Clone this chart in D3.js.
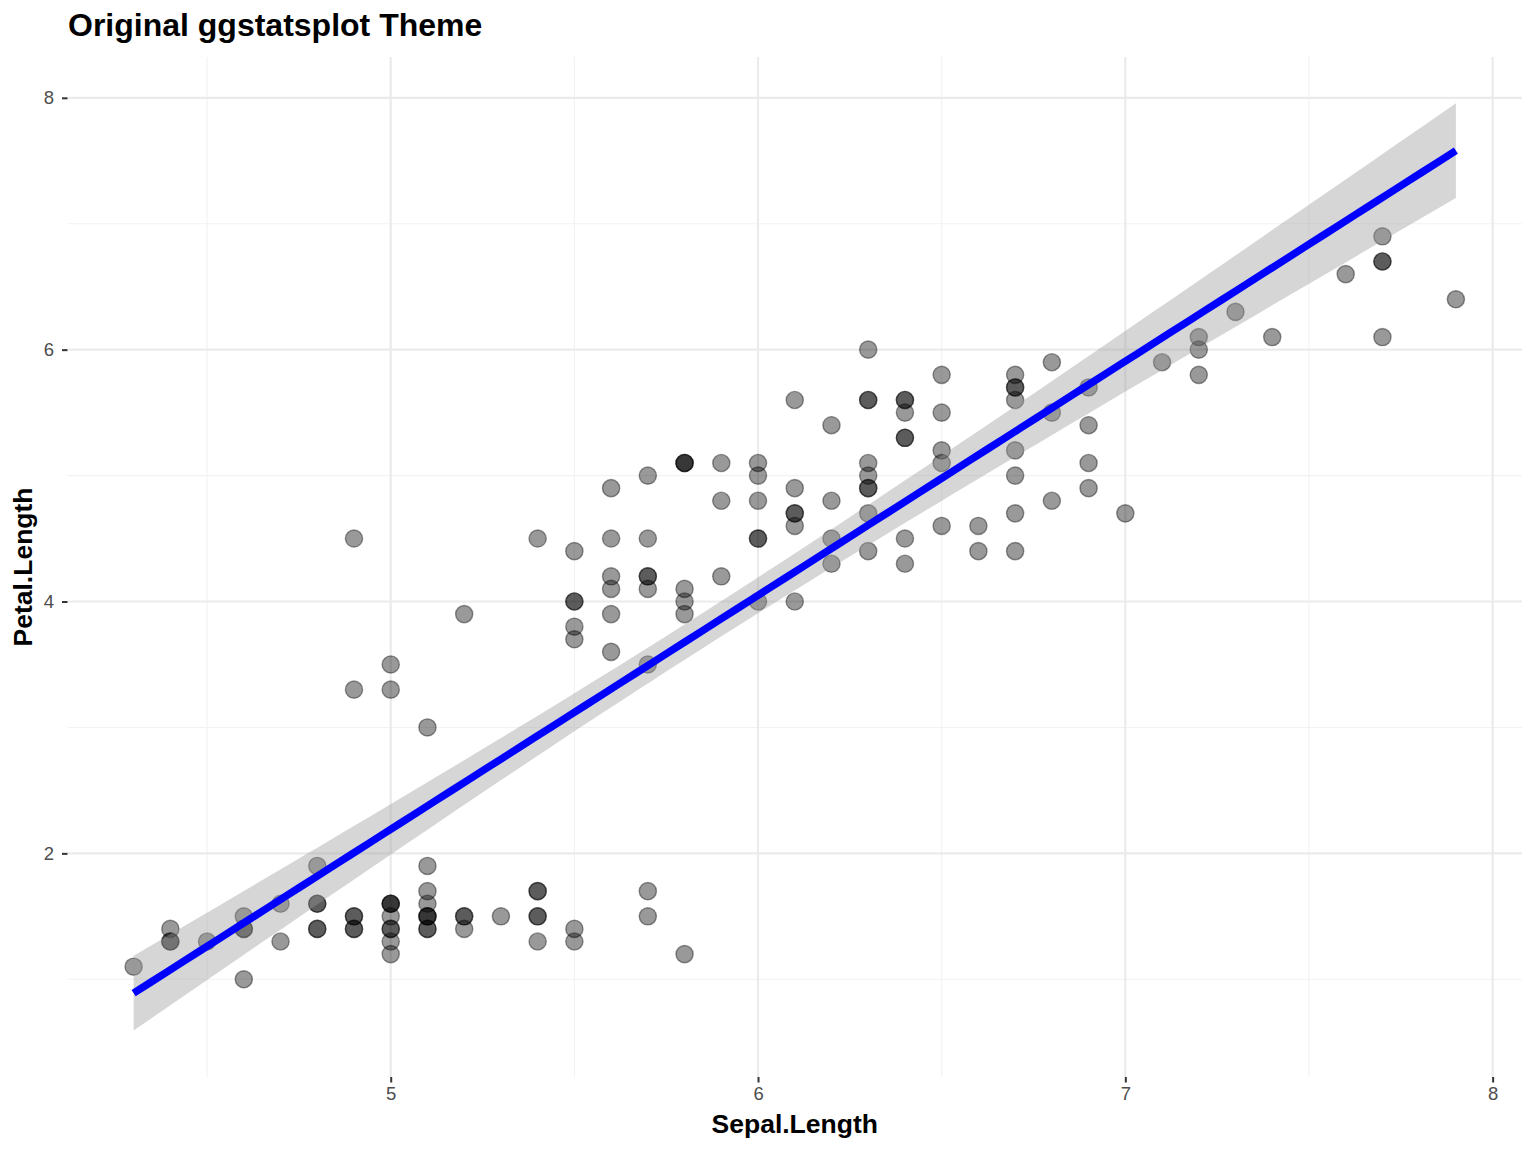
<head>
    <script src="https://d3js.org/d3.v7.min.js"></script>
    <style>
        body { margin: 0; background: #fff; }
        text { font-family: "Liberation Sans", Arial, sans-serif; }
    </style>
</head>

<body>
    <div id="app"></div>
</body>

<script>
    // iris: Sepal.Length / Petal.Length
    const sepalLength = [
        5.1, 4.9, 4.7, 4.6, 5.0, 5.4, 4.6, 5.0, 4.4, 4.9, 5.4, 4.8, 4.8, 4.3, 5.8, 5.7, 5.4, 5.1, 5.7, 5.1,
        5.4, 5.1, 4.6, 5.1, 4.8, 5.0, 5.0, 5.2, 5.2, 4.7, 4.8, 5.4, 5.2, 5.5, 4.9, 5.0, 5.5, 4.9, 4.4, 5.1,
        5.0, 4.5, 4.4, 5.0, 5.1, 4.8, 5.1, 4.6, 5.3, 5.0,
        7.0, 6.4, 6.9, 5.5, 6.5, 5.7, 6.3, 4.9, 6.6, 5.2, 5.0, 5.9, 6.0, 6.1, 5.6, 6.7, 5.6, 5.8, 6.2, 5.6,
        5.9, 6.1, 6.3, 6.1, 6.4, 6.6, 6.8, 6.7, 6.0, 5.7, 5.5, 5.5, 5.8, 6.0, 5.4, 6.0, 6.7, 6.3, 5.6, 5.5,
        5.5, 6.1, 5.8, 5.0, 5.6, 5.7, 5.7, 6.2, 5.1, 5.7,
        6.3, 5.8, 7.1, 6.3, 6.5, 7.6, 4.9, 7.3, 6.7, 7.2, 6.5, 6.4, 6.8, 5.7, 5.8, 6.4, 6.5, 7.7, 7.7, 6.0,
        6.9, 5.6, 7.7, 6.3, 6.7, 7.2, 6.2, 6.1, 6.4, 7.2, 7.4, 7.9, 6.4, 6.3, 6.1, 7.7, 6.3, 6.4, 6.0, 6.9,
        6.7, 6.9, 5.8, 6.8, 6.7, 6.7, 6.3, 6.5, 6.2, 5.9
    ];
    const petalLength = [
        1.4, 1.4, 1.3, 1.5, 1.4, 1.7, 1.4, 1.5, 1.4, 1.5, 1.5, 1.6, 1.4, 1.1, 1.2, 1.5, 1.3, 1.4, 1.7, 1.5,
        1.7, 1.5, 1.0, 1.7, 1.9, 1.6, 1.6, 1.5, 1.4, 1.6, 1.6, 1.5, 1.5, 1.4, 1.5, 1.2, 1.3, 1.4, 1.3, 1.5,
        1.3, 1.3, 1.3, 1.6, 1.9, 1.4, 1.6, 1.4, 1.5, 1.4,
        4.7, 4.5, 4.9, 4.0, 4.6, 4.5, 4.7, 3.3, 4.6, 3.9, 3.5, 4.2, 4.0, 4.7, 3.6, 4.4, 4.5, 4.1, 4.5, 3.9,
        4.8, 4.0, 4.9, 4.7, 4.3, 4.4, 4.8, 5.0, 4.5, 3.5, 3.8, 3.7, 3.9, 5.1, 4.5, 4.5, 4.7, 4.4, 4.1, 4.0,
        4.4, 4.6, 4.0, 3.3, 4.2, 4.2, 4.2, 4.3, 3.0, 4.1,
        6.0, 5.1, 5.9, 5.6, 5.8, 6.6, 4.5, 6.3, 5.8, 6.1, 5.1, 5.3, 5.5, 5.0, 5.1, 5.3, 5.5, 6.7, 6.9, 5.0,
        5.7, 4.9, 6.7, 4.9, 5.7, 6.0, 4.8, 4.9, 5.6, 5.8, 6.1, 6.4, 5.6, 5.1, 5.6, 6.1, 5.6, 5.5, 4.8, 5.4,
        5.6, 5.1, 5.1, 5.9, 5.7, 5.2, 5.0, 5.2, 5.4, 5.1
    ];
    const xTicks = [5, 6, 7, 8];
    const yTicks = [2, 4, 6, 8];
    const xMinor = [4.5, 5.5, 6.5, 7.5];
    const yMinor = [1, 3, 5, 7];

    const W = 1536, H = 1152;
    const pLeft = 67.5, pRight = 1522, pTop = 57, pBottom = 1077;

    const svg = d3.select("#app").append("svg")
        .attr("width", W).attr("height", H);

    // linear fit + 95% CI (like geom_smooth(method = "lm"))
    const n = sepalLength.length;
    const xbar = d3.mean(sepalLength), ybar = d3.mean(petalLength);
    const sxx = d3.sum(sepalLength, v => (v - xbar) ** 2);
    const sxy = d3.sum(sepalLength, (v, i) => (v - xbar) * (petalLength[i] - ybar));
    const slope = sxy / sxx, icpt = ybar - slope * xbar;
    const rss = d3.sum(sepalLength, (v, i) => (petalLength[i] - icpt - slope * v) ** 2);
    const sigma = Math.sqrt(rss / (n - 2));
    const tq = 1.976;
    const [xmin, xmax] = d3.extent(sepalLength);
    const fit = d3.range(80).map(k => {
        const xv = xmin + (xmax - xmin) * k / 79;
        const yv = icpt + slope * xv;
        const se = sigma * Math.sqrt(1 / n + (xv - xbar) ** 2 / sxx);
        return { x: xv, y: yv, lo: yv - tq * se, hi: yv + tq * se };
    });

    const x = d3.scaleLinear().domain([4.12, 8.08]).range([pLeft, pRight]);
    const y = d3.scaleLinear().domain([0.224, 8.324]).range([pBottom, pTop]);

    // grid
    const grid = svg.append("g");
    grid.selectAll(".xmin").data(xMinor).enter().append("line")
        .attr("x1", d => x(d)).attr("x2", d => x(d)).attr("y1", pTop).attr("y2", pBottom)
        .attr("stroke", "#f2f2f2").attr("stroke-width", 1.1);
    grid.selectAll(".ymin").data(yMinor).enter().append("line")
        .attr("y1", d => y(d)).attr("y2", d => y(d)).attr("x1", pLeft).attr("x2", pRight)
        .attr("stroke", "#f2f2f2").attr("stroke-width", 1.1);
    grid.selectAll(".xmaj").data(xTicks).enter().append("line")
        .attr("x1", d => x(d)).attr("x2", d => x(d)).attr("y1", pTop).attr("y2", pBottom)
        .attr("stroke", "#ebebeb").attr("stroke-width", 2.2);
    grid.selectAll(".ymaj").data(yTicks).enter().append("line")
        .attr("y1", d => y(d)).attr("y2", d => y(d)).attr("x1", pLeft).attr("x2", pRight)
        .attr("stroke", "#ebebeb").attr("stroke-width", 2.2);

    // axes
    const xAxis = svg.append("g").attr("transform", `translate(0,${pBottom})`)
        .call(d3.axisBottom(x).tickValues(xTicks).tickSize(5.5).tickPadding(4).tickFormat(d3.format("d")));
    const yAxis = svg.append("g").attr("transform", `translate(${pLeft},0)`)
        .call(d3.axisLeft(y).tickValues(yTicks).tickSize(5.5).tickPadding(8).tickFormat(d3.format("d")));
    [xAxis, yAxis].forEach(a => {
        a.select(".domain").remove();
        a.selectAll(".tick line").attr("stroke", "#333").attr("stroke-width", 2);
        a.selectAll(".tick text")
            .attr("fill", "#4d4d4d")
            .attr("font-size", 18.5)
            .style("font-size", "18.5px")
            .style("font-family", "'Liberation Sans', Arial, sans-serif");
    });

    // points
    svg.append("g").selectAll("circle").data(sepalLength).enter().append("circle")
        .attr("cx", d => x(d))
        .attr("cy", (d, i) => y(petalLength[i]))
        .attr("r", 8.6)
        .attr("fill", "rgba(0,0,0,0.4)")
        .attr("stroke", "rgba(0,0,0,0.4)")
        .attr("stroke-width", 1.4);

    // ribbon + line
    svg.append("path").datum(fit)
        .attr("d", d3.area().x(d => x(d.x)).y0(d => y(d.lo)).y1(d => y(d.hi)))
        .attr("fill", "#999999").attr("fill-opacity", 0.4);
    svg.append("path").datum(fit)
        .attr("d", d3.line().x(d => x(d.x)).y(d => y(d.y)))
        .attr("fill", "none").attr("stroke", "#0000ff").attr("stroke-width", 7.5);

    // titles
    svg.append("text").attr("x", 68).attr("y", 36)
        .attr("font-size", 32).attr("font-weight", "bold").text("Original ggstatsplot Theme");
    svg.append("text").attr("x", (pLeft + pRight) / 2).attr("y", 1133)
        .attr("text-anchor", "middle").attr("font-size", 26.5).attr("font-weight", "bold").text("Sepal.Length");
    svg.append("text").attr("transform", `translate(32,${(pTop + pBottom) / 2}) rotate(-90)`)
        .attr("text-anchor", "middle").attr("font-size", 26.5).attr("font-weight", "bold").text("Petal.Length");
</script>
